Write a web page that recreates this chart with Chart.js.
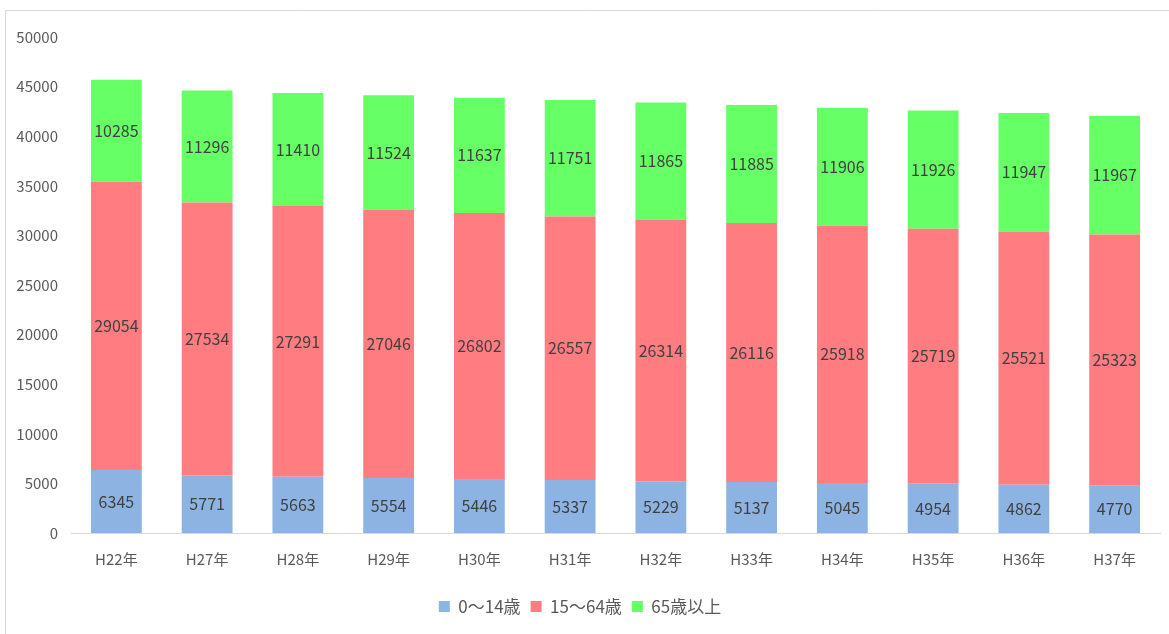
<!DOCTYPE html>
<html><head><meta charset="utf-8">
<script src="https://cdn.jsdelivr.net/npm/chart.js@4/dist/chart.umd.min.js"></script>
<style>html,body{margin:0;padding:0;background:#fff;}#wrap{width:1169px;height:634px;}</style>
</head><body><div id="wrap"><canvas id="c" width="1169" height="634"></canvas></div>
<script>
const categories = ['H22年','H27年','H28年','H29年','H30年','H31年','H32年','H33年','H34年','H35年','H36年','H37年'];
const age0to14 = [6345,5771,5663,5554,5446,5337,5229,5137,5045,4954,4862,4770];
const age15to64 = [29054,27534,27291,27046,26802,26557,26314,26116,25918,25719,25521,25323];
const age65plus = [10285,11296,11410,11524,11637,11751,11865,11885,11906,11926,11947,11967];
const seriesNames = ['0〜14歳','15〜64歳','65歳以上'];
const yTicks = [0,5000,10000,15000,20000,25000,30000,35000,40000,45000,50000];

const FONT = '"Noto Sans CJK JP","Noto Sans",sans-serif';

const labelPlugin = {
  id: 'barLabels',
  afterDatasetsDraw(chart) {
    const ctx = chart.ctx;
    ctx.save();
    ctx.font = '16px ' + FONT;
    ctx.fillStyle = '#404040';
    ctx.textAlign = 'center';
    ctx.textBaseline = 'middle';
    chart.data.datasets.forEach((ds, di) => {
      const meta = chart.getDatasetMeta(di);
      meta.data.forEach((bar, i) => {
        const y = (bar.y + bar.base) / 2;
        ctx.fillText(String(ds.data[i]), bar.x, y);
      });
    });
    ctx.restore();
  }
};
const framePlugin = {
  id: 'frame',
  beforeDraw(chart) {
    const ctx = chart.ctx;
    ctx.save();
    ctx.fillStyle = '#fff';
    ctx.fillRect(0, 0, chart.width, chart.height);
    ctx.strokeStyle = '#d9d9d9';
    ctx.lineWidth = 1;
    ctx.beginPath();
    ctx.moveTo(5.5, 634);
    ctx.lineTo(5.5, 10.5);
    ctx.lineTo(1169, 10.5);
    ctx.stroke();
    ctx.restore();
  }
};

new Chart(document.getElementById('c'), {
  type: 'bar',
  data: {
    labels: categories,
    datasets: [
      { label: seriesNames[0], data: age0to14, backgroundColor: '#8DB3E2' },
      { label: seriesNames[1], data: age15to64, backgroundColor: '#FF7C80' },
      { label: seriesNames[2], data: age65plus, backgroundColor: '#66FF66' }
    ]
  },
  options: {
    responsive: false,
    animation: false,
    devicePixelRatio: 1,
    layout: { padding: { top: 37, right: 9, left: 0, bottom: 9 } },
    datasets: { bar: { categoryPercentage: 1.0, barPercentage: 0.56 } },
    scales: {
      x: {
        stacked: true,
        grid: { display: false, drawTicks: false },
        border: { display: true, color: '#d9d9d9' },
        ticks: { color: '#595959', font: { family: FONT, size: 15 }, padding: 17 },
        afterFit(s) { s.height += 3; }
      },
      y: {
        stacked: true,
        min: 0, max: 50000,
        afterBuildTicks(s) { s.ticks = yTicks.map(v => ({ value: v })); },
        grid: { display: false, drawTicks: false },
        border: { display: false },
        ticks: { color: '#595959', font: { family: FONT, size: 15 }, padding: 13, callback: v => String(v) },
        afterFit(s) { s.width = 71; }
      }
    },
    plugins: {
      legend: {
        position: 'bottom',
        labels: { boxWidth: 11, boxHeight: 11, color: '#595959', font: { family: FONT, size: 17 }, padding: 10 }
      },
      tooltip: { enabled: false }
    }
  },
  plugins: [framePlugin, labelPlugin]
});
</script></body></html>
